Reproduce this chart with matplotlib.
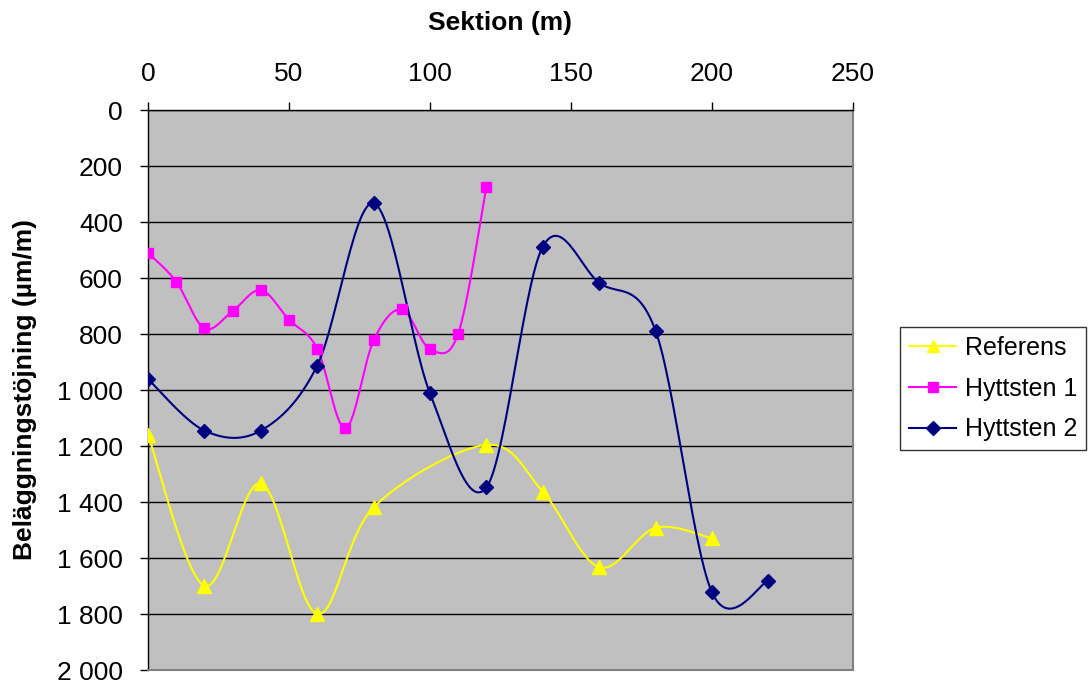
import numpy as np
import matplotlib.pyplot as plt
from matplotlib.ticker import FuncFormatter

# data
ref_x = [0, 20, 40, 60, 80, 120, 140, 160, 180, 200]
ref_y = [1160, 1700, 1333, 1800, 1419, 1196, 1363, 1633, 1492, 1530]

h1_x = [0, 10, 20, 30, 40, 50, 60, 70, 80, 90, 100, 110, 120]
h1_y = [510, 613, 780, 718, 643, 749, 852, 1137, 823, 712, 854, 799, 274]

h2_x = [0, 20, 40, 60, 80, 100, 120, 140, 160, 180, 200, 220]
h2_y = [961, 1145, 1145, 913, 333, 1012, 1348, 488, 617, 789, 1723, 1681]

x_ticks = [0, 50, 100, 150, 200, 250]
y_ticks = [0, 200, 400, 600, 800, 1000, 1200, 1400, 1600, 1800, 2000]


def smooth(xs, ys, n=30):
    """Сглаживание как в Excel (Catmull-Rom через кривые Безье)"""
    p = np.column_stack([xs, ys]).astype(float)
    p_ext = np.vstack([p[0], p, p[-1]])
    t = np.linspace(0, 1, n)[:, None]
    out = []
    for i in range(len(p) - 1):
        p0, p1, p2, p3 = p_ext[i], p_ext[i + 1], p_ext[i + 2], p_ext[i + 3]
        c1 = p1 + (p2 - p0) / 6
        c2 = p2 - (p3 - p1) / 6
        seg = ((1 - t) ** 3) * p1 + 3 * ((1 - t) ** 2) * t * c1 \
            + 3 * (1 - t) * t ** 2 * c2 + t ** 3 * p2
        out.append(seg if i == 0 else seg[1:])
    out = np.vstack(out)
    return out[:, 0], out[:, 1]


plt.rcParams['font.family'] = ['Liberation Sans', 'DejaVu Sans']

fig = plt.figure(figsize=(10.91, 6.84), dpi=100)
ax = fig.add_axes([148 / 1091, 1 - 670 / 684, 705 / 1091, 560 / 684])
ax.set_facecolor('#C0C0C0')

series = [
    ('Referens', ref_x, ref_y, '#FFFF00', '^', 10),
    ('Hyttsten 1', h1_x, h1_y, '#FF00FF', 's', 7.5),
    ('Hyttsten 2', h2_x, h2_y, '#000080', 'D', 7.5),
]
for name, xs, ys, color, marker, ms in series:
    sx, sy = smooth(xs, ys)
    ax.plot(sx, sy, color=color, linewidth=1.5, zorder=3)
    ax.plot(xs, ys, linestyle='none', marker=marker, markersize=ms,
            color=color, zorder=4)
    # для легенды
    ax.plot([], [], color=color, linewidth=1.5, marker=marker,
            markersize=ms * 0.9, label=name)

ax.set_xlim(0, 250)
ax.set_ylim(2000, 0)
ax.set_xticks(x_ticks)
ax.set_yticks(y_ticks)
ax.yaxis.set_major_formatter(FuncFormatter(lambda v, p: '{:,}'.format(int(v)).replace(',', ' ')))
ax.xaxis.tick_top()
ax.xaxis.set_label_position('top')
ax.tick_params(axis='both', labelsize=19, direction='out', length=6, width=1, color='black')
ax.tick_params(axis='x', pad=11)
ax.tick_params(axis='y', pad=12)
ax.yaxis.grid(True, color='black', linewidth=1)
ax.set_axisbelow(True)

for side in ['right', 'bottom']:
    ax.spines[side].set_color('#808080')
    ax.spines[side].set_linewidth(1.5)
for side in ['left', 'top']:
    ax.spines[side].set_color('black')
    ax.spines[side].set_linewidth(1)

ax.set_xlabel('Sektion (m)', fontsize=19, fontweight='bold', va='center')
ax.xaxis.set_label_coords(0.5, (670 - 23) / 560)
ax.set_ylabel('Beläggningstöjning (µm/m)', fontsize=19, fontweight='bold', va='center')
ax.yaxis.set_label_coords((25 - 148) / 705, 0.5)

# легенда
handles, labels = ax.get_legend_handles_labels()
leg = fig.legend(handles[-3:], labels[-3:], loc='upper left',
                 bbox_to_anchor=(900 / 1091, 1 - 327 / 684), fontsize=18,
                 borderaxespad=0, frameon=True, fancybox=False, borderpad=0.35,
                 handlelength=1.9, handletextpad=0.35, labelspacing=0.67)
leg.get_frame().set_edgecolor('black')
leg.get_frame().set_linewidth(1)

fig.savefig('out.png', dpi=100)
